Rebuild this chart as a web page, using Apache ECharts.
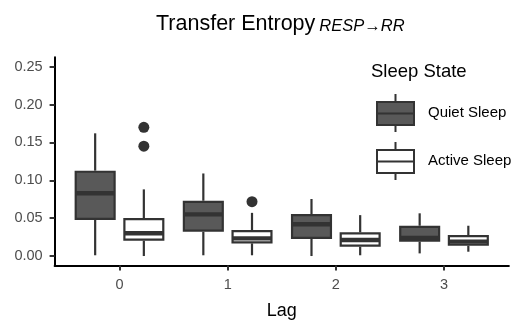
<!DOCTYPE html>
<html>
<head>
<meta charset="utf-8">
<script src="https://cdn.jsdelivr.net/npm/echarts@6/dist/echarts.min.js"></script>
<style>html,body{margin:0;padding:0;background:#fff}#c{width:512px;height:320px}</style>
</head>
<body>
<div id="c"></div>
<script>
// ---- data ----
const lags = ['0', '1', '2', '3'];
// [min, q1, median, q3, max] per lag
const quietStats = [
  [0.001, 0.0476, 0.0828, 0.1127, 0.162],
  [0.001, 0.032, 0.055, 0.073, 0.109],
  [0.000, 0.0225, 0.0419, 0.0555, 0.0753],
  [0.0035, 0.019, 0.024, 0.040, 0.0564]
];
const activeStats = [
  [0.000, 0.0202, 0.030, 0.0502, 0.088],
  [0.001, 0.0167, 0.0233, 0.0343, 0.057],
  [0.001, 0.0123, 0.0211, 0.0313, 0.054],
  [0.0057, 0.0136, 0.019, 0.0277, 0.040]
];
// outliers: [lag index, value]
const activeOutliers = [[0, 0.170], [0, 0.145], [1, 0.0717]];
const yTicks = [0, 0.05, 0.10, 0.15, 0.20, 0.25];
const seriesNames = ['Quiet Sleep', 'Active Sleep'];

// ---- layout constants ----
const DODGE = 0.225;
const HALF_W = 0.19;
const FONT = 'Liberation Sans, Arial, sans-serif';
const lagIdx = lags.map((_, i) => i);

function boxData(stats, off) {
  return stats.map((s, i) => [lagIdx[i] + off].concat(s));
}

function renderBox(params, api) {
  const x = api.value(0);
  const mn = api.coord([x, api.value(1)]);
  const q1 = api.coord([x, api.value(2)]);
  const md = api.coord([x, api.value(3)]);
  const q3 = api.coord([x, api.value(4)]);
  const mx = api.coord([x, api.value(5)]);
  const hw = api.size([HALF_W, 0])[0];
  const fill = api.visual('color');
  const stroke = '#333333';
  const bw = 2.2;
  return {
    type: 'group',
    children: [
      { type: 'line', shape: { x1: mx[0], y1: mx[1], x2: q3[0], y2: q3[1] }, style: { stroke, lineWidth: bw } },
      { type: 'line', shape: { x1: q1[0], y1: q1[1], x2: mn[0], y2: mn[1] }, style: { stroke, lineWidth: bw } },
      { type: 'rect', shape: { x: q3[0] - hw + bw / 2, y: q3[1] + bw / 2, width: 2 * hw - bw, height: q1[1] - q3[1] - bw }, style: { fill, stroke, lineWidth: bw } },
      { type: 'line', shape: { x1: md[0] - hw + bw / 2, y1: md[1], x2: md[0] + hw - bw / 2, y2: md[1] }, style: { stroke, lineWidth: 4.4 } }
    ]
  };
}

const ICON = 'path://M0,8L37,8L37,31L0,31Z M0,19.5L37,19.5 M18.5,0L18.5,8 M18.5,31L18.5,38';

const chart = echarts.init(document.getElementById('c'), null, { renderer: 'canvas' });
chart.setOption({
  animation: false,
  title: [
    {
      text: '{a|Transfer Entropy}{b|RESP\u2192RR}',
      left: 156, top: 13, padding: 0,
      textStyle: {
        fontWeight: 'normal',
        rich: {
          a: { fontSize: 21.5, fontWeight: 'normal', fontFamily: FONT, color: '#000' },
          b: { fontSize: 16.5, fontWeight: 'normal', fontFamily: FONT, fontStyle: 'italic', color: '#000', verticalAlign: 'bottom', padding: [0, 0, 0, 4] }
        }
      }
    },
    {
      text: 'Sleep State', left: 371, top: 62, padding: 0,
      textStyle: { fontSize: 18.5, fontWeight: 'normal', fontFamily: FONT, color: '#000' }
    }
  ],
  legend: {
    orient: 'vertical', left: 376, top: 93, padding: 0,
    itemWidth: 37, itemHeight: 38, itemGap: 8,
    textStyle: { fontSize: 15, fontFamily: FONT, color: '#000', padding: [0, 0, 0, 9] },
    data: [
      { name: seriesNames[0], icon: ICON, itemStyle: { color: '#595959', borderColor: '#333333', borderWidth: 2 } },
      { name: seriesNames[1], icon: ICON, itemStyle: { color: '#ffffff', borderColor: '#333333', borderWidth: 2 } }
    ]
  },
  grid: { left: 54.6, right: 3.1, top: 57.2, bottom: 54.5, containLabel: false, outerBoundsMode: 'none' },
  xAxis: {
    type: 'value', min: -0.6, max: 3.6,
    splitLine: { show: false },
    axisLine: { show: true, onZero: false, lineStyle: { color: '#000', width: 2 } },
    axisTick: { show: true, length: 5, customValues: lagIdx, lineStyle: { color: '#333', width: 2 } },
    axisLabel: { customValues: lagIdx, formatter: v => lags[Math.round(v)], color: '#4d4d4d', fontSize: 14.5, fontFamily: FONT, margin: 12 },
    name: 'Lag', nameLocation: 'middle', nameGap: 37,
    nameTextStyle: { fontSize: 18, fontFamily: FONT, color: '#000' }
  },
  yAxis: {
    type: 'value', min: -0.0125, max: 0.2625,
    splitLine: { show: false },
    axisLine: { show: true, onZero: false, lineStyle: { color: '#000', width: 2 } },
    axisTick: { show: true, length: 5, customValues: yTicks, lineStyle: { color: '#333', width: 2 } },
    axisLabel: { customValues: yTicks, formatter: v => v.toFixed(2), color: '#4d4d4d', fontSize: 14.5, fontFamily: FONT, margin: 12 }
  },
  series: [
    {
      name: seriesNames[0], type: 'custom', renderItem: renderBox,
      itemStyle: { color: '#595959', borderColor: '#333333' },
      encode: { x: 0, y: [1, 2, 3, 4, 5] },
      data: boxData(quietStats, -DODGE)
    },
    {
      name: seriesNames[1], type: 'custom', renderItem: renderBox,
      itemStyle: { color: '#ffffff', borderColor: '#333333' },
      encode: { x: 0, y: [1, 2, 3, 4, 5] },
      data: boxData(activeStats, DODGE)
    },
    {
      name: 'outliers', type: 'scatter', symbolSize: 11,
      itemStyle: { color: '#333333', opacity: 1 },
      data: activeOutliers.map(o => [lagIdx[o[0]] + DODGE, o[1]])
    }
  ]
});
</script>
</body>
</html>
